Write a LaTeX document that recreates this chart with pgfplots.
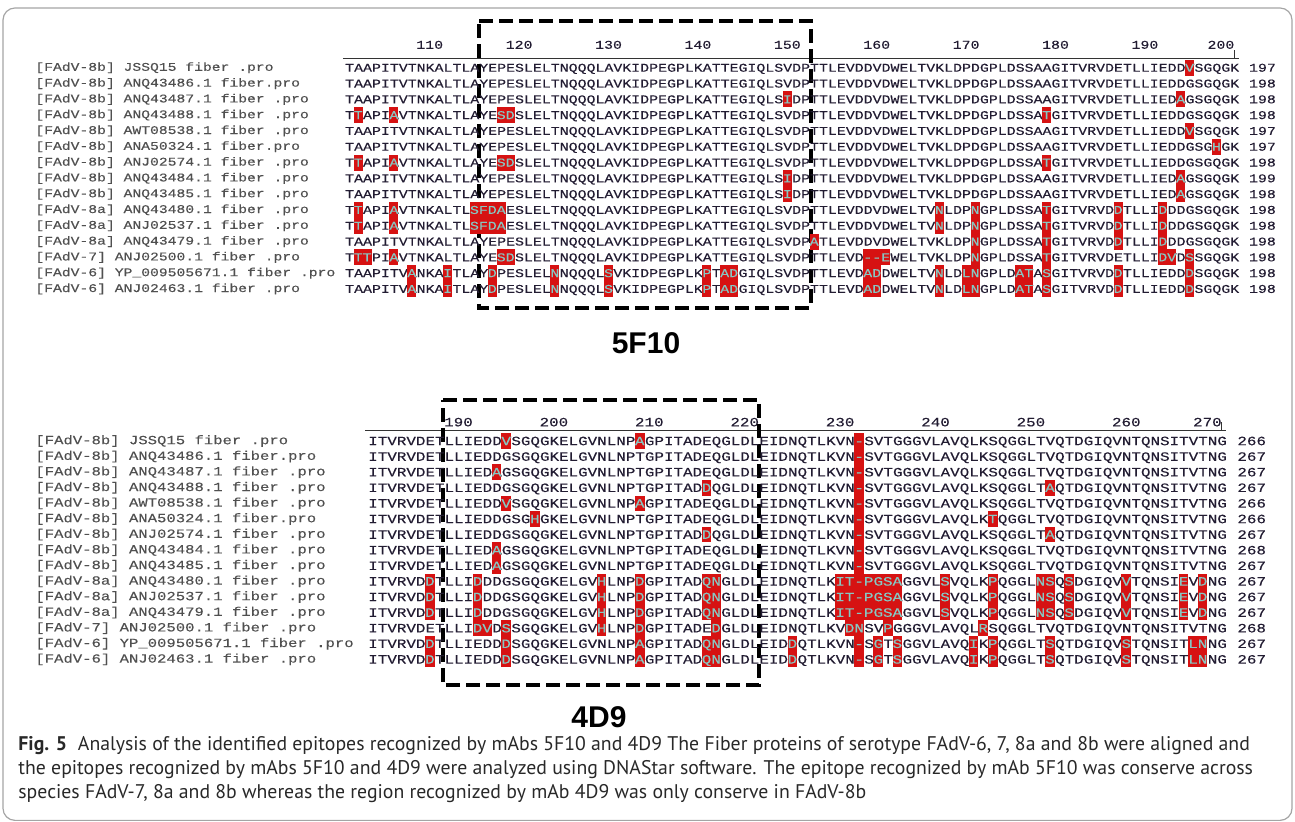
\documentclass[border=0pt]{standalone}
\usepackage{pgfplots}
\pgfplotsset{compat=1.18}
\usepackage{pgfplotstable}
\usepackage{fontspec}
\setmonofont{Liberation Mono}[FakeStretch=1.25, FakeBold=0.2]
\newfontfamily\capfont{PT Sans}
\newfontfamily\lblfont{Liberation Sans}

\definecolor{seqtext}{RGB}{34,28,50}
\definecolor{labtext}{RGB}{80,80,80}
\definecolor{hlred}{RGB}{214,18,18}
\definecolor{hltext}{RGB}{135,200,195}
\definecolor{framegray}{RGB}{165,165,165}
\definecolor{captext}{RGB}{40,40,40}

\newcommand\seqfontA{\ttfamily\fontsize{5.96}{7}\selectfont}
\newcommand\seqfontB{\ttfamily\fontsize{6.36}{7.5}\selectfont}
\newcommand\labfontA{\ttfamily\fontsize{5.88}{7}\selectfont}
\newcommand\labfontB{\ttfamily\fontsize{6.24}{7.5}\selectfont}

% one residue cell, block 1 and block 2
\pgfdeclareplotmark{cellA}{\pgfpathrectangle{\pgfqpoint{-2.26pt}{-3.98pt}}{\pgfqpoint{4.52pt}{7.96pt}}\pgfusepathqfill}
\pgfdeclareplotmark{cellB}{\pgfpathrectangle{\pgfqpoint{-2.41pt}{-3.93pt}}{\pgfqpoint{4.82pt}{7.86pt}}\pgfusepathqfill}

\pgfplotsset{
  rowlabels/.style={
    ytick={-1,-2,...,-15},
    yticklabels={
      {[FAdV-8b] JSSQ15 fiber .pro},
      {[FAdV-8b] ANQ43486.1 fiber.pro},
      {[FAdV-8b] ANQ43487.1 fiber .pro},
      {[FAdV-8b] ANQ43488.1 fiber .pro},
      {[FAdV-8b] AWT08538.1 fiber .pro},
      {[FAdV-8b] ANA50324.1 fiber.pro},
      {[FAdV-8b] ANJ02574.1 fiber .pro},
      {[FAdV-8b] ANQ43484.1 fiber .pro},
      {[FAdV-8b] ANQ43485.1 fiber .pro},
      {[FAdV-8a] ANQ43480.1 fiber .pro},
      {[FAdV-8a] ANJ02537.1 fiber .pro},
      {[FAdV-8a] ANQ43479.1 fiber .pro},
      {[FAdV-7] ANJ02500.1 fiber .pro},
      {[FAdV-6] YP\_009505671.1 fiber .pro},
      {[FAdV-6] ANJ02463.1 fiber .pro}},
  },
  aln/.style={
    clip=false,
    axis x line*=top, axis y line*=left,
    x axis line style={-, black!80, line width=0.5pt},
    y axis line style={draw=none},
    ytick style={draw=none},
    major tick length=0pt,
    rowlabels,
  },
}

% ---------- block 1: positions 101-200 ----------
\pgfplotstableread[row sep=\\]{
x y s\\
100.5 -1 TAAPITVTNKALTLAYEPESLELTNQQQLAVKIDPEGPLKATTEGIQLSVDPTTLEVDDVDWELTVKLDPDGPLDSSAAGITVRVDETLLIEDDVSGQGK\\
100.5 -2 TAAPITVTNKALTLAYEPESLELTNQQQLAVKIDPEGPLKATTEGIQLSVDPTTLEVDDVDWELTVKLDPDGPLDSSAAGITVRVDETLLIEDDGSGQGK\\
100.5 -3 TAAPITVTNKALTLAYEPESLELTNQQQLAVKIDPEGPLKATTEGIQLSIDPTTLEVDDVDWELTVKLDPDGPLDSSAAGITVRVDETLLIEDAGSGQGK\\
100.5 -4 TTAPIAVTNKALTLAYESDSLELTNQQQLAVKIDPEGPLKATTEGIQLSVDPTTLEVDDVDWELTVKLDPDGPLDSSATGITVRVDETLLIEDDGSGQGK\\
100.5 -5 TAAPITVTNKALTLAYEPESLELTNQQQLAVKIDPEGPLKATTEGIQLSVDPTTLEVDDVDWELTVKLDPDGPLDSSAAGITVRVDETLLIEDDVSGQGK\\
100.5 -6 TAAPITVTNKALTLAYEPESLELTNQQQLAVKIDPEGPLKATTEGIQLSVDPTTLEVDDVDWELTVKLDPDGPLDSSAAGITVRVDETLLIEDDGSGHGK\\
100.5 -7 TTAPIAVTNKALTLAYESDSLELTNQQQLAVKIDPEGPLKATTEGIQLSVDPTTLEVDDVDWELTVKLDPDGPLDSSATGITVRVDETLLIEDDGSGQGK\\
100.5 -8 TAAPITVTNKALTLAYEPESLELTNQQQLAVKIDPEGPLKATTEGIQLSIDPTTLEVDDVDWELTVKLDPDGPLDSSAAGITVRVDETLLIEDAGSGQGK\\
100.5 -9 TAAPITVTNKALTLAYEPESLELTNQQQLAVKIDPEGPLKATTEGIQLSIDPTTLEVDDVDWELTVKLDPDGPLDSSAAGITVRVDETLLIEDAGSGQGK\\
100.5 -10 TTAPIAVTNKALTLSFDAESLELTNQQQLAVKIDPEGPLKATTEGIQLSVDPTTLEVDDVDWELTVNLDPNGPLDSSATGITVRVDDTLLIDDDGSGQGK\\
100.5 -11 TTAPIAVTNKALTLSFDAESLELTNQQQLAVKIDPEGPLKATTEGIQLSVDPTTLEVDDVDWELTVNLDPNGPLDSSATGITVRVDDTLLIDDDGSGQGK\\
100.5 -12 TAAPITVTNKALTLAYEPESLELTNQQQLAVKIDPEGPLKATTEGIQLSVDPATLEVDDVDWELTVKLDPNGPLDSSATGITVRVDDTLLIDDDGSGQGK\\
100.5 -13 TTTPIAVTNKALTLAYESDSLELTNQQQLAVKIDPEGPLKATTEGIQLSVDPTTLEVD--EWELTVKLDPNGPLDSSATGITVRVDETLLIDVDSSGQGK\\
100.5 -14 TAAPITVANKAITLAYDPESLELNNQQQLSVKIDPEGPLKPTADGIQLSVDPTTLEVDADDWELTVNLDLNGPLDATASGITVRVDDTLLIEDDDSGQGK\\
100.5 -15 TAAPITVANKAITLAYDPESLELNNQQQLSVKIDPEGPLKPTADGIQLSVDPTTLEVDADDWELTVNLDLNGPLDATASGITVRVDDTLLIEDDDSGQGK\\
}\seqA

\pgfplotstableread[row sep=\\]{
x y c\\
195 -1 V\\
150 -3 I\\ 194 -3 A\\
102 -4 T\\ 106 -4 A\\ 118 -4 S\\ 119 -4 D\\ 179 -4 T\\
195 -5 V\\
198 -6 H\\
102 -7 T\\ 106 -7 A\\ 118 -7 S\\ 119 -7 D\\ 179 -7 T\\
150 -8 I\\ 194 -8 A\\
150 -9 I\\ 194 -9 A\\
102 -10 T\\ 106 -10 A\\ 115 -10 S\\ 116 -10 F\\ 117 -10 D\\ 118 -10 A\\ 167 -10 N\\ 171 -10 N\\ 179 -10 T\\ 187 -10 D\\ 192 -10 D\\
102 -11 T\\ 106 -11 A\\ 115 -11 S\\ 116 -11 F\\ 117 -11 D\\ 118 -11 A\\ 167 -11 N\\ 171 -11 N\\ 179 -11 T\\ 187 -11 D\\ 192 -11 D\\
153 -12 A\\ 171 -12 N\\ 179 -12 T\\ 187 -12 D\\ 192 -12 D\\
102 -13 T\\ 103 -13 T\\ 106 -13 A\\ 118 -13 S\\ 119 -13 D\\ 159 -13 -\\ 160 -13 -\\ 161 -13 E\\ 171 -13 N\\ 179 -13 T\\ 192 -13 D\\ 193 -13 V\\ 195 -13 S\\
108 -14 A\\ 112 -14 I\\ 117 -14 D\\ 124 -14 N\\ 130 -14 S\\ 141 -14 P\\ 143 -14 A\\ 144 -14 D\\ 159 -14 A\\ 160 -14 D\\ 167 -14 N\\ 170 -14 L\\ 171 -14 N\\ 176 -14 A\\ 177 -14 T\\ 179 -14 S\\ 187 -14 D\\ 195 -14 D\\
108 -15 A\\ 112 -15 I\\ 117 -15 D\\ 124 -15 N\\ 130 -15 S\\ 141 -15 P\\ 143 -15 A\\ 144 -15 D\\ 159 -15 A\\ 160 -15 D\\ 167 -15 N\\ 170 -15 L\\ 171 -15 N\\ 176 -15 A\\ 177 -15 T\\ 179 -15 S\\ 187 -15 D\\ 195 -15 D\\
}\hlA

\pgfplotstableread[row sep=\\]{
x y n\\
201.6 -1 197\\ 201.6 -2 198\\ 201.6 -3 198\\ 201.6 -4 198\\ 201.6 -5 197\\
201.6 -6 197\\ 201.6 -7 198\\ 201.6 -8 199\\ 201.6 -9 198\\ 201.6 -10 198\\
201.6 -11 198\\ 201.6 -12 198\\ 201.6 -13 198\\ 201.6 -14 198\\ 201.6 -15 198\\
}\endA

% ---------- block 2: positions 181-270 ----------
\pgfplotstableread[row sep=\\]{
x y s\\
180.5 -1 ITVRVDETLLIEDDVSGQGKELGVNLNPAGPITADEQGLDLEIDNQTLKVN-SVTGGGVLAVQLKSQGGLTVQTDGIQVNTQNSITVTNG\\
180.5 -2 ITVRVDETLLIEDDGSGQGKELGVNLNPTGPITADEQGLDLEIDNQTLKVN-SVTGGGVLAVQLKSQGGLTVQTDGIQVNTQNSITVTNG\\
180.5 -3 ITVRVDETLLIEDAGSGQGKELGVNLNPTGPITADEQGLDLEIDNQTLKVN-SVTGGGVLAVQLKSQGGLTVQTDGIQVNTQNSITVTNG\\
180.5 -4 ITVRVDETLLIEDDGSGQGKELGVNLNPTGPITADDQGLDLEIDNQTLKVN-SVTGGGVLAVQLKSQGGLTAQTDGIQVNTQNSITVTNG\\
180.5 -5 ITVRVDETLLIEDDVSGQGKELGVNLNPAGPITADEQGLDLEIDNQTLKVN-SVTGGGVLAVQLKSQGGLTVQTDGIQVNTQNSITVTNG\\
180.5 -6 ITVRVDETLLIEDDGSGHGKELGVNLNPTGPITADEQGLDLEIDNQTLKVN-SVTGGGVLAVQLKTQGGLTVQTDGIQVNTQNSITVTNG\\
180.5 -7 ITVRVDETLLIEDDGSGQGKELGVNLNPTGPITADDQGLDLEIDNQTLKVN-SVTGGGVLAVQLKSQGGLTAQTDGIQVNTQNSITVTNG\\
180.5 -8 ITVRVDETLLIEDAGSGQGKELGVNLNPTGPITADEQGLDLEIDNQTLKVN-SVTGGGVLAVQLKSQGGLTVQTDGIQVNTQNSITVTNG\\
180.5 -9 ITVRVDETLLIEDAGSGQGKELGVNLNPTGPITADEQGLDLEIDNQTLKVN-SVTGGGVLAVQLKSQGGLTVQTDGIQVNTQNSITVTNG\\
180.5 -10 ITVRVDDTLLIDDDGSGQGKELGVHLNPDGPITADQNGLDLEIDNQTLKIT-PGSAGGVLSVQLKPQGGLNSQSDGIQVVTQNSIEVDNG\\
180.5 -11 ITVRVDDTLLIDDDGSGQGKELGVHLNPDGPITADQNGLDLEIDNQTLKIT-PGSAGGVLSVQLKPQGGLNSQSDGIQVVTQNSIEVDNG\\
180.5 -12 ITVRVDDTLLIDDDGSGQGKELGVHLNPDGPITADQNGLDLEIDNQTLKIT-PGSAGGVLSVQLKPQGGLNSQSDGIQVVTQNSIEVDNG\\
180.5 -13 ITVRVDETLLIDVDSSGQGKELGVHLNPDGPITADEDGLDLEIDNQTLKVDNSVPGGGVLAVQLRSQGGLTVQTDGIQVNTQNSITVTNG\\
180.5 -14 ITVRVDDTLLIEDDDSGQGKELGVNLNPAGPITADQNGLDLEIDDQTLKVN-SGTSGGVLAVQIKPQGGLTSQTDGIQVSTQNSITLNNG\\
180.5 -15 ITVRVDDTLLIEDDDSGQGKELGVNLNPAGPITADQNGLDLEIDDQTLKVN-SGTSGGVLAVQIKPQGGLTSQTDGIQVSTQNSITLNNG\\
}\seqB

\pgfplotstableread[row sep=\\]{
x y c\\
195 -1 V\\ 209 -1 A\\ 232 -1 -\\
232 -2 -\\
194 -3 A\\ 232 -3 -\\
216 -4 D\\ 232 -4 -\\ 252 -4 A\\
195 -5 V\\ 209 -5 A\\ 232 -5 -\\
198 -6 H\\ 232 -6 -\\ 246 -6 T\\
216 -7 D\\ 232 -7 -\\ 252 -7 A\\
194 -8 A\\ 232 -8 -\\
194 -9 A\\ 232 -9 -\\
187 -10 D\\ 192 -10 D\\ 205 -10 H\\ 209 -10 D\\ 216 -10 Q\\ 217 -10 N\\ 230 -10 I\\ 231 -10 T\\ 232 -10 -\\ 233 -10 P\\ 234 -10 G\\ 235 -10 S\\ 236 -10 A\\ 241 -10 S\\ 246 -10 P\\ 251 -10 N\\ 252 -10 S\\ 254 -10 S\\ 260 -10 V\\ 266 -10 E\\ 268 -10 D\\
187 -11 D\\ 192 -11 D\\ 205 -11 H\\ 209 -11 D\\ 216 -11 Q\\ 217 -11 N\\ 230 -11 I\\ 231 -11 T\\ 232 -11 -\\ 233 -11 P\\ 234 -11 G\\ 235 -11 S\\ 236 -11 A\\ 241 -11 S\\ 246 -11 P\\ 251 -11 N\\ 252 -11 S\\ 254 -11 S\\ 260 -11 V\\ 266 -11 E\\ 268 -11 D\\
187 -12 D\\ 192 -12 D\\ 205 -12 H\\ 209 -12 D\\ 216 -12 Q\\ 217 -12 N\\ 230 -12 I\\ 231 -12 T\\ 232 -12 -\\ 233 -12 P\\ 234 -12 G\\ 235 -12 S\\ 236 -12 A\\ 241 -12 S\\ 246 -12 P\\ 251 -12 N\\ 252 -12 S\\ 254 -12 S\\ 260 -12 V\\ 266 -12 E\\ 268 -12 D\\
192 -13 D\\ 193 -13 V\\ 195 -13 S\\ 205 -13 H\\ 209 -13 D\\ 217 -13 D\\ 231 -13 D\\ 232 -13 N\\ 235 -13 P\\ 245 -13 R\\
187 -14 D\\ 195 -14 D\\ 209 -14 A\\ 216 -14 Q\\ 217 -14 N\\ 225 -14 D\\ 232 -14 -\\ 234 -14 G\\ 236 -14 S\\ 244 -14 I\\ 246 -14 P\\ 252 -14 S\\ 260 -14 S\\ 267 -14 L\\ 268 -14 N\\
187 -15 D\\ 195 -15 D\\ 209 -15 A\\ 216 -15 Q\\ 217 -15 N\\ 225 -15 D\\ 232 -15 -\\ 234 -15 G\\ 236 -15 S\\ 244 -15 I\\ 246 -15 P\\ 252 -15 S\\ 260 -15 S\\ 267 -15 L\\ 268 -15 N\\
}\hlB

\pgfplotstableread[row sep=\\]{
x y n\\
271.6 -1 266\\ 271.6 -2 267\\ 271.6 -3 267\\ 271.6 -4 267\\ 271.6 -5 266\\
271.6 -6 266\\ 271.6 -7 267\\ 271.6 -8 268\\ 271.6 -9 267\\ 271.6 -10 267\\
271.6 -11 267\\ 271.6 -12 267\\ 271.6 -13 268\\ 271.6 -14 267\\ 271.6 -15 267\\
}\endB

\begin{document}
\begin{tikzpicture}
\useasboundingbox (0,0) rectangle (647.5pt,411pt);
\draw[framegray, line width=0.6pt, rounded corners=6pt] (1.5pt,0.8pt) rectangle (646pt,407pt);

% block 1
\begin{axis}[aln,
  at={(171.5pt,381.85pt)}, anchor=north west,
  x=4.47pt, y=7.9pt,
  xmin=100.3, xmax=200.5, ymin=-15.5, ymax=-0.4,
  xtick={110,120,...,200},
  xticklabels={110,120,130,140,150,160,170,180,190,\llap{200}},
  xticklabel style={font=\seqfontA, text=seqtext, inner sep=0pt, yshift=4.5pt},
  yticklabel style={font=\labfontA, text=labtext, anchor=west, inner sep=0pt, xshift=-154pt},
]
\addplot[draw=none, mark=none, nodes near coords={\pgfplotspointmeta}, point meta=explicit symbolic,
  every node near coord/.append style={anchor=base west, inner sep=0pt, yshift=-1.97pt, font=\seqfontA, text=seqtext}]
  table[x=x, y=y, meta=s] {\seqA};
\addplot[only marks, mark=cellA, color=hlred, nodes near coords={\pgfplotspointmeta}, point meta=explicit symbolic,
  every node near coord/.append style={anchor=base, inner sep=0pt, yshift=-1.97pt, font=\seqfontA, text=hltext}]
  table[x=x, y=y, meta=c] {\hlA};
\addplot[draw=none, mark=none, nodes near coords={\pgfplotspointmeta}, point meta=explicit symbolic,
  every node near coord/.append style={anchor=base west, inner sep=0pt, yshift=-1.97pt, font=\seqfontA, text=seqtext}]
  table[x=x, y=y, meta=n] {\endA};
\addplot[black!80, line width=0.5pt, mark=none] coordinates {(200,-0.4) (200,0.12)};
\addplot[black, line width=2pt, mark=none, dash pattern=on 7pt off 3pt, line join=miter]
  coordinates {(115.52,1.96) (152.6,1.96) (152.6,-16.2) (115.52,-16.2) (115.52,1.96)};
\end{axis}

% block 2
\begin{axis}[aln,
  at={(182.5pt,195.65pt)}, anchor=north west,
  x=4.77pt, y=7.8pt,
  xmin=180.2, xmax=270.5, ymin=-15.5, ymax=-0.34,
  xtick={190,200,...,270},
  xticklabels={190,200,210,220,230,240,250,260,\llap{270}},
  xticklabel style={font=\seqfontB, text=seqtext, inner sep=0pt, yshift=1.9pt},
  yticklabel style={font=\labfontB, text=labtext, anchor=west, inner sep=0pt, xshift=-165pt},
]
\addplot[draw=none, mark=none, nodes near coords={\pgfplotspointmeta}, point meta=explicit symbolic,
  every node near coord/.append style={anchor=base west, inner sep=0pt, yshift=-2.1pt, font=\seqfontB, text=seqtext}]
  table[x=x, y=y, meta=s] {\seqB};
\addplot[only marks, mark=cellB, color=hlred, nodes near coords={\pgfplotspointmeta}, point meta=explicit symbolic,
  every node near coord/.append style={anchor=base, inner sep=0pt, yshift=-2.1pt, font=\seqfontB, text=hltext}]
  table[x=x, y=y, meta=c] {\hlB};
\addplot[draw=none, mark=none, nodes near coords={\pgfplotspointmeta}, point meta=explicit symbolic,
  every node near coord/.append style={anchor=base west, inner sep=0pt, yshift=-2.1pt, font=\seqfontB, text=seqtext}]
  table[x=x, y=y, meta=n] {\endB};
\addplot[black!80, line width=0.5pt, mark=none] coordinates {(270,-0.34) (270,0.2)};
\addplot[black, line width=2pt, mark=none, dash pattern=on 7pt off 3pt, line join=miter]
  coordinates {(188.4,1.63) (221.52,1.63) (221.52,-16.64) (188.4,-16.64) (188.4,1.63)};
\end{axis}

\node[font=\lblfont\bfseries\fontsize{15}{18}\selectfont] at (323pt,239.5pt) {5F10};
\node[font=\lblfont\bfseries\fontsize{15}{18}\selectfont] at (299.5pt,52.5pt) {4D9};

\begin{scope}[every node/.style={anchor=base west, inner sep=0pt, text=captext, font=\capfont\fontsize{9.88}{12}\selectfont}]
\node at (9pt,35.5pt) {\textbf{Fig. 5}\hspace{0.55em}Analysis of the identified epitopes recognized by mAbs 5F10 and 4D9 The Fiber proteins of serotype FAdV-6, 7, 8a and 8b were aligned and};
\node at (9pt,23.5pt) {the epitopes recognized by mAbs 5F10 and 4D9 were analyzed using DNAStar software. The epitope recognized by mAb 5F10 was conserve across};
\node at (9pt,11.5pt) {species FAdV-7, 8a and 8b whereas the region recognized by mAb 4D9 was only conserve in FAdV-8b};
\end{scope}
\end{tikzpicture}
\end{document}
